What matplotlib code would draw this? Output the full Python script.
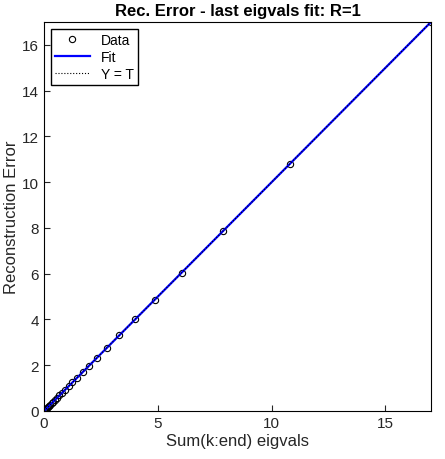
import matplotlib
matplotlib.use('Agg')
import matplotlib.pyplot as plt
import numpy as np

plt.rcParams['font.family'] = ['Liberation Sans', 'DejaVu Sans']

# tail sums of eigenvalues vs reconstruction error
sum_eig = [17.0, 10.8, 7.85, 6.05, 4.87, 4.0, 3.3, 2.75, 2.32, 1.97, 1.7, 1.45,
           1.25, 1.08, 0.93, 0.8, 0.68, 0.58, 0.49, 0.41, 0.34, 0.28, 0.22,
           0.17, 0.13, 0.09, 0.06, 0.03, 0.01, 0.0]
rec_err = list(sum_eig)

x = np.array(sum_eig)
y = np.array(rec_err)
p = np.polyfit(x, y, 1)
xf = np.array([x.min(), x.max()])

fig = plt.figure(figsize=(4.45, 4.6), dpi=100)
ax = fig.add_axes([44/445, 48/460, 387/445, 389/460])
ax.plot(x, y, 'o', mfc='none', mec='black', ms=4.5, mew=0.8, label='Data')
ax.plot(xf, np.polyval(p, xf), color='blue', lw=1.6, label='Fit')
ax.plot(xf, xf, ':', color='black', lw=0.8, label='Y = T')
ax.set_xlim(0, 17)
ax.set_ylim(0, 17)
ax.set_xticks([0, 5, 10, 15])
ax.set_yticks(range(0, 17, 2))
ax.tick_params(direction='in', labelsize=11, colors='#262626', length=4)
ax.set_xlabel('Sum(k:end) eigvals', fontsize=12, color='#262626', labelpad=2)
ax.set_ylabel('Reconstruction Error', fontsize=12, color='#262626', labelpad=2)
ax.set_title('Rec. Error - last eigvals fit: R=1', fontsize=12, fontweight='bold', pad=5)
ax.legend(loc='upper left', fontsize=10, fancybox=False, edgecolor='black',
          framealpha=1, handlelength=2.5, borderaxespad=0.5, borderpad=0.3,
          labelspacing=0.2)
fig.savefig('out.png', dpi=100)
